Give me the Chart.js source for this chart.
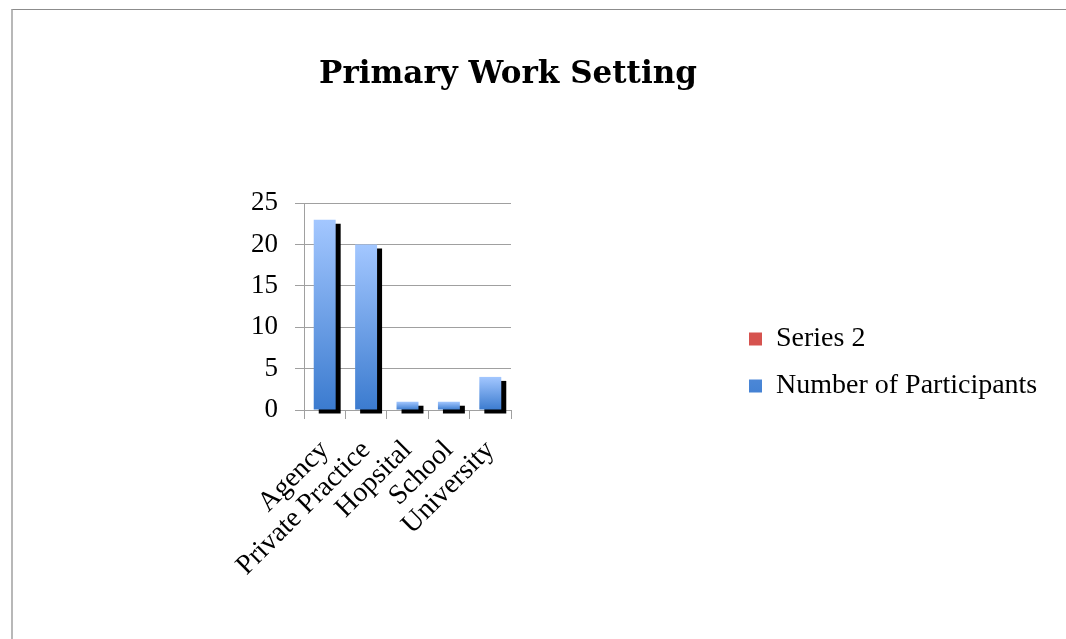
<!DOCTYPE html>
<html>
<head>
<meta charset="utf-8">
<title>Primary Work Setting</title>
<script src="https://cdn.jsdelivr.net/npm/chart.js@4.4.1/dist/chart.umd.min.js"></script>
<style>
  html, body { margin: 0; padding: 0; background: #fff; }
  #wrap { position: relative; width: 1066px; height: 639px; overflow: hidden; }
  #frame { position: absolute; left: 11px; top: 9px; right: -5px; bottom: -5px;
           border-top: 1px solid #8c8c8c; border-left: 2px solid #b8b8b8; pointer-events: none; }
  canvas { position: absolute; left: 0; top: 0; }
</style>
</head>
<body>
<div id="wrap">
  <canvas id="chart" width="1066" height="639"></canvas>
  <div id="frame"></div>
</div>
<script>
// data
const categories = ['Agency', 'Private Practice', 'Hopsital', 'School', 'University'];
const participants = [23, 20, 1, 1, 4];
const series2 = [null, null, null, null, null];
const yTicks = [0, 5, 10, 15, 20, 25];

const serif = '"Liberation Serif", "Times New Roman", serif';
const gridGrey = '#a0a0a0';

// each bar gets its own light-to-dark gradient, like the office chart
function blueFill(c) {
    const chart = c.chart;
    const y = chart.scales.y;
    if (c.type !== 'data' || !y || c.raw == null) return '#6a9ee6';
    const top = y.getPixelForValue(c.raw);
    const base = y.getPixelForValue(0);
    if (!isFinite(top) || !isFinite(base) || top === base) return '#6a9ee6';
    const g = chart.ctx.createLinearGradient(0, top, 0, base);
    g.addColorStop(0, '#a3c7ff');
    g.addColorStop(1, '#3b7bcf');
    return g;
}

// hard black drop shadow behind the bars
const barShadow = {
    id: 'barShadow',
    beforeDatasetsDraw(chart) {
        const c = chart.ctx;
        c.save();
        c.shadowColor = '#000';
        c.shadowOffsetX = 5;
        c.shadowOffsetY = 4;
        c.shadowBlur = 0;
    },
    afterDatasetsDraw(chart) {
        chart.ctx.restore();
    }
};

// title sits a bit left of the canvas centre, legend a bit lower than chart.js puts it
const nudge = {
    id: 'nudge',
    afterLayout(chart) {
        const t = chart.titleBlock;
        t.left -= 15;
        t.right -= 15;
        const l = chart.legend;
        l.top += 43;
        l.bottom += 43;
    }
};

new Chart(document.getElementById('chart'), {
    type: 'bar',
    data: {
        labels: categories,
        datasets: [
            { label: 'Number of Participants', data: participants, backgroundColor: blueFill,
              borderWidth: 0, clip: false },
            { label: 'Series 2', data: series2, backgroundColor: '#d6534f', borderWidth: 0, clip: false }
        ]
    },
    options: {
        responsive: false,
        animation: false,
        devicePixelRatio: 1,
        layout: { padding: { left: 0, right: 20, top: 0, bottom: 0 } },
        datasets: { bar: { grouped: false, categoryPercentage: 1, barPercentage: 0.53 } },
        scales: {
            x: {
                grid: { drawOnChartArea: false, color: gridGrey, tickLength: 9 },
                border: { color: gridGrey },
                ticks: { color: '#000', font: { family: serif, size: 28 }, minRotation: 45, maxRotation: 45,
                         autoSkip: false, padding: 15 },
                afterFit(s) { s.height = 229; }
            },
            y: {
                min: 0, max: 25,
                afterBuildTicks(s) { s.ticks = yTicks.map(v => ({ value: v })); },
                grid: { color: gridGrey, tickLength: 9 },
                border: { color: gridGrey },
                ticks: { color: '#000', font: { family: serif, size: 27 }, padding: 17 },
                afterFit(s) { s.width = 304; }
            },
            // empty spacer between plot and legend
            gap: {
                position: 'right',
                grid: { display: false },
                border: { display: false },
                ticks: { display: false },
                afterFit(s) { s.width = 219; }
            }
        },
        plugins: {
            title: {
                display: true,
                text: 'Primary Work Setting',
                color: '#000',
                font: { family: '"DejaVu Serif", serif', size: 31, weight: 'bold' },
                padding: { top: 56, bottom: 110 }
            },
            legend: {
                position: 'right',
                reverse: true,
                maxWidth: 316,
                labels: {
                    color: '#000',
                    font: { family: serif, size: 28 },
                    boxWidth: 13, boxHeight: 13,
                    padding: 19
                }
            },
            tooltip: { enabled: false }
        }
    },
    plugins: [barShadow, nudge]
});
</script>
</body>
</html>
